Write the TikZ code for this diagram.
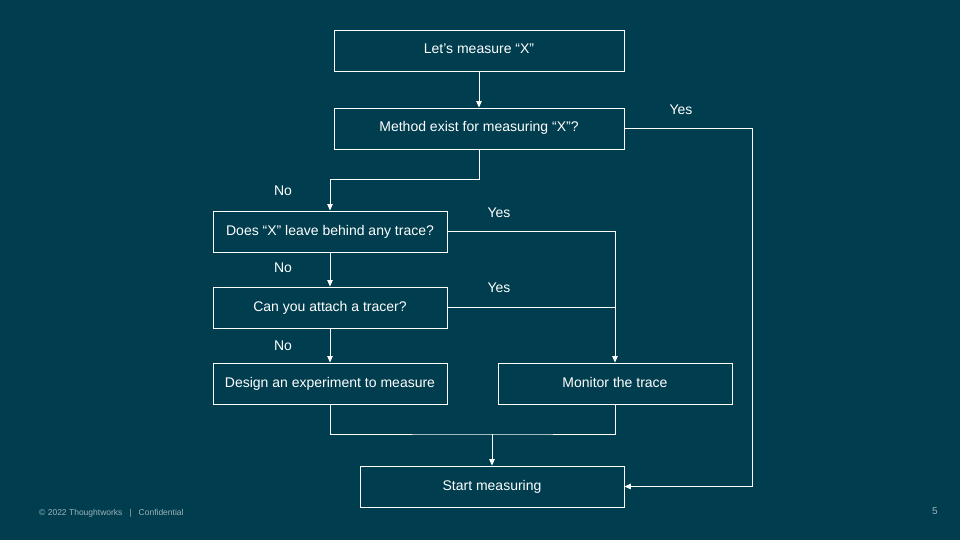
\documentclass[tikz,border=0pt]{standalone}
\usepackage{fontspec}
\setmainfont{Liberation Sans}
\usetikzlibrary{arrows.meta,positioning}
\definecolor{bgteal}{HTML}{003D4F}
\definecolor{footgrey}{HTML}{9DB3BA}

\begin{document}
\begin{tikzpicture}[x=1pt, y=-1pt, >={Triangle[length=6.5pt,width=5.5pt]},
  box/.style={rectangle, draw=white, line width=0.9pt, inner sep=0pt, text=white, text height=10pt, text depth=3pt, font=\fontsize{14}{16}\selectfont},
  wide/.style={box, minimum width=290pt, minimum height=41pt},
  mid/.style={box, minimum width=234pt, minimum height=41pt},
  ans/.style={text=white, font=\fontsize{14}{16}\selectfont, inner sep=0pt},
  edge/.style={->, line width=0.9pt, draw=white},
  wire/.style={line width=0.9pt, draw=white}
]
\fill[bgteal] (0,0) rectangle (960,540);
\useasboundingbox (0,0) rectangle (960,540);
\node[wide] (n0) at (479,50.5) {Let’s measure “X”};
\node[wide] (n1) at (479,128.5) {Method exist for measuring “X”?};
\node[mid] (n2) at (330,231.5) {Does “X” leave behind any trace?};
\node[mid] (n3) at (330,307.5) {Can you attach a tracer?};
\node[mid] (n4) at (330,383.5) {Design an experiment to measure};
\node[mid] (n5) at (615,383.5) {Monitor the trace};
\node[box, minimum width=264pt, minimum height=41pt] (n6) at (492,486.5) {Start measuring};
\coordinate (bend) at (752,128.5);
\coordinate (join) at (492,434);
\draw[edge] (n0) -- (n1);
\draw[edge] (n1.south) |- (330,179) -- (n2.north);
\draw[edge] (n1.east) -- (bend) |- (n6.east);
\draw[edge] (n2.east) -| (n5.north);
\draw[wire] (n3.east) -- (615,307.5);
\draw[edge] (n2) -- (n3);
\draw[edge] (n3) -- (n4);
\draw[wire] (n4.south) |- (join) -| (n5.south);
\draw[edge] (join) -- (n6.north);
\node[ans] (y0) at (681,110) {Yes};
\node[ans] (y1) at (499,213) {Yes};
\node[ans] (y2) at (499,288) {Yes};
\node[ans] (no0) at (283,191) {No};
\node[ans] (no1) at (283,268) {No};
\node[ans] (no2) at (283,346) {No};
\node[anchor=west, text=footgrey, font=\fontsize{8.5}{10}\selectfont, inner sep=0pt] (foot) at (39,513) {© 2022 Thoughtworks\hspace{7pt}|\hspace{7pt}Confidential};
\node[text=footgrey, font=\fontsize{10}{12}\selectfont, inner sep=0pt] (page) at (935,511) {5};
\end{tikzpicture}
\end{document}
